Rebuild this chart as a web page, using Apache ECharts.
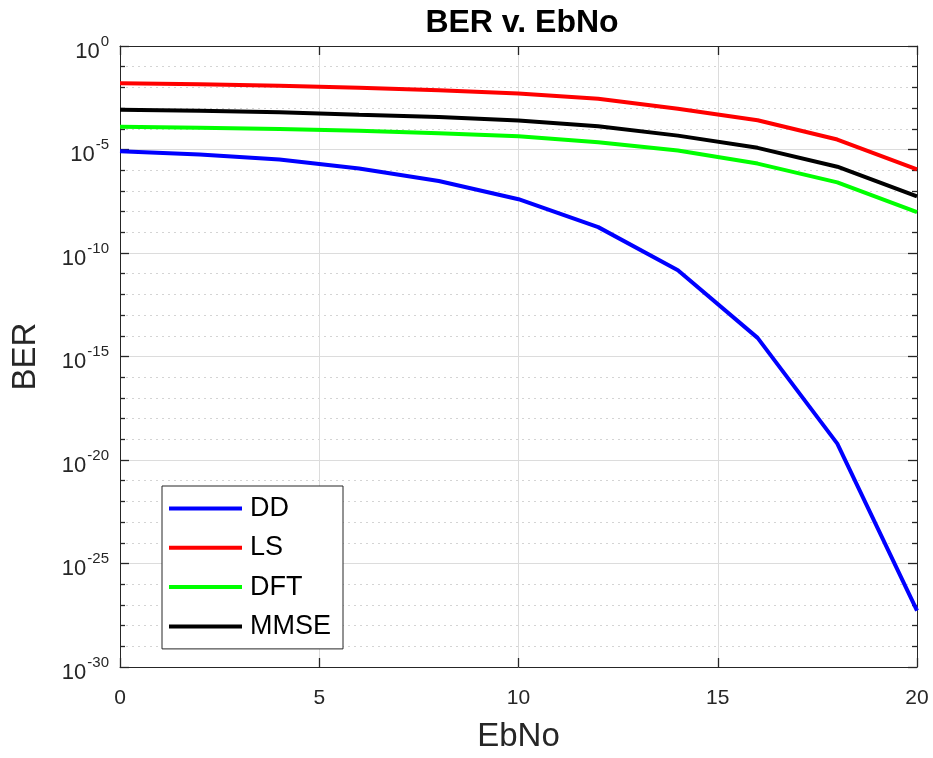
<!DOCTYPE html>
<html>
<head>
<meta charset="utf-8">
<script src="https://cdn.jsdelivr.net/npm/echarts@6/dist/echarts.min.js"></script>
<style>html,body{margin:0;padding:0;background:#fff}#c{width:933px;height:758px}</style>
</head>
<body>
<div id="c"></div>
<script>
// EbNo values (x)
var ebno = [0, 2, 4, 6, 8, 10, 12, 14, 16, 18, 20];
// BER values stored as base-10 exponents (BER = 10^value)
var berDD   = [-5.09, -5.24, -5.48, -5.92, -6.52, -7.40, -8.75, -10.83, -14.10, -19.21, -27.28];
var berLS   = [-1.80, -1.85, -1.92, -2.02, -2.14, -2.30, -2.55, -3.03, -3.59, -4.52, -5.96];
var berDFT  = [-3.90, -3.95, -4.01, -4.09, -4.22, -4.36, -4.65, -5.05, -5.68, -6.59, -8.03];
var berMMSE = [-3.08, -3.13, -3.20, -3.32, -3.43, -3.60, -3.88, -4.33, -4.92, -5.83, -7.26];
var seriesNames = ['DD', 'LS', 'DFT', 'MMSE'];
var xTicks = [0, 5, 10, 15, 20];
var yExpTicks = [0, -5, -10, -15, -20, -25, -30];

var FONT = '"Liberation Sans", Arial, Helvetica, sans-serif';
var AX = '#262626';

function pairs(ys) { return ebno.map(function (x, i) { return [x, ys[i]]; }); }

var chart = echarts.init(document.getElementById('c'), null, { renderer: 'canvas' });

function baseX() {
  return {
    type: 'value', min: 0, max: 20, interval: 5,
    axisLine: { show: true, onZero: false, lineStyle: { color: AX, width: 1 } },
    axisTick: { show: true, inside: true, length: 9, lineStyle: { color: AX, width: 1.3 } }
  };
}
function baseY() {
  return {
    type: 'value', min: -30, max: 0, interval: 5,
    axisLine: { show: true, onZero: false, lineStyle: { color: AX, width: 1 } },
    axisTick: { show: true, inside: true, length: 9, lineStyle: { color: AX, width: 1.3 } },
    minorTick: { show: true, splitNumber: 5, length: 5, lineStyle: { color: AX, width: 1.3 } }
  };
}

var colors = ['#0000ff', '#ff0000', '#00ff00', '#000000'];
var datasets = [berDD, berLS, berDFT, berMMSE];

chart.setOption({
  animation: false,
  backgroundColor: '#ffffff',
  title: {
    text: 'BER v. EbNo',
    left: 517, top: 2, textAlign: 'center',
    textStyle: { fontFamily: FONT, fontSize: 32, fontWeight: 'bold', color: '#000' }
  },
  grid: { left: 120, right: 16, top: 46, bottom: 86, containLabel: false },
  legend: {
    data: seriesNames,
    orient: 'vertical',
    left: 162, top: 486,
    icon: 'rect', itemWidth: 73, itemHeight: 4, itemGap: 12.3,
    padding: [9, 12, 9, 7],
    borderColor: AX, borderWidth: 1, backgroundColor: '#ffffff',
    textStyle: { fontFamily: FONT, fontSize: 27, color: '#000', padding: [0, 0, 0, 3] }
  },
  xAxis: [
    Object.assign(baseX(), {
      position: 'bottom',
      name: 'EbNo', nameLocation: 'middle', nameGap: 53,
      nameTextStyle: { fontFamily: FONT, fontSize: 33, color: AX },
      axisLabel: {
        fontFamily: FONT, fontSize: 21, color: AX, margin: 21,
        formatter: function (v) { return xTicks.indexOf(v) >= 0 ? String(v) : ''; }
      },
      splitLine: { show: true, lineStyle: { color: '#dcdcdc', width: 1 } }
    }),
    Object.assign(baseX(), {
      position: 'top',
      axisLabel: { show: false },
      splitLine: { show: false }
    })
  ],
  yAxis: [
    Object.assign(baseY(), {
      position: 'left',
      name: 'BER', nameLocation: 'middle', nameGap: 78, nameRotate: 90,
      nameTextStyle: { fontFamily: FONT, fontSize: 33, color: AX },
      axisLabel: {
        margin: 11, color: AX,
        formatter: function (v) {
          return yExpTicks.indexOf(v) >= 0 ? '{b|10}{s|' + v + '}' : '';
        },
        rich: {
          b: { fontFamily: FONT, fontSize: 22, lineHeight: 22, color: AX, padding: [11, 0, 0, 0] },
          s: { fontFamily: FONT, fontSize: 15, lineHeight: 15, color: AX, padding: [0, 0, 9, 1] }
        }
      },
      splitLine: { show: true, lineStyle: { color: '#dcdcdc', width: 1 } },
      minorSplitLine: { show: true, lineStyle: { color: '#d4d4d4', width: 1, type: [2, 4] } }
    }),
    Object.assign(baseY(), {
      position: 'right',
      axisLabel: { show: false },
      splitLine: { show: false }
    })
  ],
  series: datasets.map(function (d, i) {
    return {
      name: seriesNames[i], type: 'line', data: pairs(d),
      xAxisIndex: 0, yAxisIndex: 0,
      symbol: 'none', smooth: false,
      lineStyle: { color: colors[i], width: 4 },
      itemStyle: { color: colors[i] },
      z: 3
    };
  })
});
</script>
</body>
</html>
